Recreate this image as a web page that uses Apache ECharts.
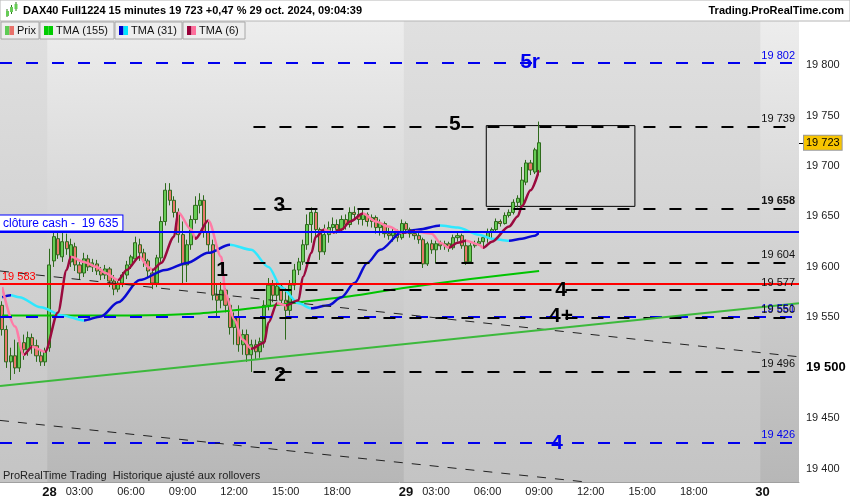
<!DOCTYPE html>
<html lang="fr">
<head>
<meta charset="utf-8" />
<title>DAX40 Full1224 15 minutes</title>
<script src="https://cdn.jsdelivr.net/npm/echarts@6/dist/echarts.min.js"></script>
<style>
  html, body { margin: 0; padding: 0; background: #fff; }
  #chart { width: 850px; height: 500px; }
</style>
</head>
<body>
<div id="chart"></div>
<script>
// bougies 15 min : [ouverture, clôture, plus bas, plus haut]
var candles = [
  [19562,19538,19532,19566],[19538,19506,19500,19542],[19506,19512,19488,19520],[19512,19500,19494,19528],
  [19500,19525,19496,19530],[19525,19518,19508,19533],[19518,19530,19512,19536],[19530,19522,19514,19534],
  [19522,19512,19506,19528],[19512,19506,19502,19518],[19506,19516,19502,19520],
  // 28 oct
  [19520,19602,19516,19618],[19606,19630,19600,19636],[19628,19612,19608,19634],[19610,19625,19605,19635],
  [19625,19618,19612,19633],[19605,19622,19600,19628],[19620,19602,19596,19624],[19602,19594,19588,19606],
  [19594,19608,19590,19614],[19608,19600,19596,19612],[19600,19604,19595,19608],[19603,19596,19592,19607],
  [19596,19592,19587,19600],[19592,19598,19588,19602],[19598,19586,19580,19600],[19586,19578,19572,19592],
  [19578,19584,19575,19588],[19584,19592,19580,19595],[19592,19602,19588,19606],[19602,19610,19598,19612],
  [19608,19624,19606,19630],[19622,19614,19606,19628],[19614,19606,19600,19618],[19606,19596,19590,19608],
  [19594,19584,19578,19598],[19584,19609,19580,19612],[19609,19645,19605,19650],[19645,19676,19641,19683],
  [19676,19666,19661,19683],[19666,19654,19649,19670],[19654,19632,19624,19658],[19632,19602,19584,19645],
  [19602,19622,19585,19627],[19622,19647,19617,19651],[19647,19661,19643,19670],[19661,19666,19653,19673],
  [19666,19635,19629,19671],[19635,19622,19615,19647],[19622,19572,19567,19627],[19572,19567,19550,19584],
  [19567,19577,19559,19585],[19577,19562,19555,19579],[19562,19540,19533,19569],[19540,19550,19523,19555],
  [19550,19523,19516,19562],[19523,19533,19513,19538],[19533,19513,19506,19538],[19513,19523,19496,19528],
  [19523,19516,19508,19528],[19516,19526,19510,19530],[19526,19562,19520,19567],[19562,19582,19557,19589],
  [19582,19572,19565,19587],[19572,19581,19567,19585],[19581,19567,19562,19584],[19567,19557,19528,19579],
  [19557,19582,19552,19587],[19582,19597,19577,19603],[19597,19605,19592,19609],[19605,19622,19602,19627],
  [19622,19642,19617,19652],[19642,19654,19624,19659],[19654,19637,19629,19657],[19637,19615,19607,19639],
  [19615,19632,19612,19642],[19632,19639,19624,19645],[19639,19642,19634,19649],[19642,19637,19633,19647],
  [19637,19647,19635,19651],[19647,19642,19637,19652],[19642,19654,19639,19659],[19654,19652,19647,19660],
  [19652,19647,19642,19657],[19647,19652,19641,19657],[19652,19645,19640,19654],[19645,19649,19639,19652],
  [19649,19639,19633,19651],[19639,19643,19631,19647],[19643,19633,19629,19645],[19633,19631,19627,19639],
  [19631,19635,19625,19638],[19635,19629,19625,19637],[19629,19643,19627,19647],
  // 29 oct
  [19643,19637,19633,19645],[19637,19633,19629,19639],[19633,19631,19627,19636],[19631,19627,19623,19634],
  [19627,19603,19599,19629],[19603,19623,19601,19625],[19623,19617,19613,19627],[19617,19623,19604,19626],
  [19623,19621,19617,19626],[19621,19623,19617,19626],[19623,19619,19615,19625],[19619,19629,19617,19632],
  [19629,19631,19625,19635],[19631,19621,19618,19633],[19621,19605,19602,19627],[19605,19621,19603,19624],
  [19621,19623,19619,19626],[19623,19625,19621,19629],[19625,19629,19620,19631],[19629,19635,19624,19638],
  [19635,19637,19627,19639],[19637,19645,19634,19648],[19645,19643,19640,19647],[19643,19651,19642,19654],
  [19651,19654,19649,19657],[19654,19664,19652,19667],[19664,19668,19659,19671],[19661,19686,19657,19699],
  [19684,19703,19681,19706],[19703,19696,19691,19706],[19694,19716,19692,19718],[19694,19723,19691,19744]
];

// moyennes mobiles triangulaires : [n° de bougie, valeur]
var tma6 = [
  [0,19580],[3,19541],[5,19513],[7,19521],[10,19516],[13,19555],[15,19597],[16,19610],[19,19605],[22,19600],
  [24,19594],[27,19587],[29,19597],[32,19610],[34,19600],[35,19597],[37,19604],[40,19630],[41,19654],[44,19637],
  [45,19628],[48,19646],[51,19610],[52,19574],[54,19548],[56,19528],[58,19519],[61,19525],[62,19545],[64,19564],
  [66,19562],[69,19567],[70,19590],[72,19614],[73,19630],[75,19637],[77,19634],[79,19637],[81,19645],[84,19653],
  [87,19645],[90,19640],[93,19634],[96,19635],[100,19633],[102,19624],[104,19619],[106,19624],[108,19626],
  [111,19622],[112,19619],[114,19625],[118,19640],[120,19650],[121,19660],[123,19676],[125,19696]
];
var tma31 = [
  [0,19570],[2,19572],[4,19570],[9,19560],[14,19552],[19,19547],[23,19551],[27,19565],[32,19587],[38,19597],
  [43,19604],[48,19614],[53,19622],[58,19617],[62,19600],[65,19580],[69,19564],[72,19559],[76,19562],[79,19570],
  [82,19584],[85,19604],[88,19617],[93,19634],[97,19637],[102,19641],[106,19639],[111,19632],[114,19628],
  [118,19626],[121,19628],[124,19631],[125,19634]
];
var tma155 = [
  [0,19552],[15,19552],[30,19552],[46,19554],[58,19559],[69,19565],[81,19571],[93,19579],[109,19588],[125,19596]
];

// niveaux tracés
var blueLevels = [19802, 19551, 19426];
var blackLevels = [19739, 19658, 19604, 19577, 19550, 19496];
var boldLevels = [19658];
var levelStart = 59;          // bougie où commencent les niveaux noirs
var cashClose = 19635;
var redLevel = 19583;
var lastPrice = 19723;
var tags = [
  ['5r', 123.4, 19803, 'blue'], ['5', 105.9, 19741, 'black'], ['3', 65, 19661, 'black'],
  ['1', 51.7, 19597, 'black'], ['2', 65.2, 19493, 'black'], ['4', 130.6, 19577, 'black'],
  ['4+', 130.6, 19551, 'black'], ['4', 129.7, 19425, 'blue']
];
var dashedTrends = [[[0, 19596], [186, 19511]], [[0, 19448], [136.4, 19387]]];
var greenTrend = [[0, 19482], [186, 19564]];
var box = [[113.2, 19740], [147.8, 19660]];
var dayBands = [[0, 11], [94, 177]];

var FONT = 'Liberation Sans, Arial, sans-serif';

function pad(n) { return (n < 10 ? '0' : '') + n; }
function session(day, from, to) {
  var out = [];
  for (var m = from; m <= to; m += 15) out.push(day + ' ' + pad(Math.floor(m / 60)) + ':' + pad(m % 60));
  return out;
}
var categories = [].concat(
  session('25', 19 * 60 + 15, 21 * 60 + 45),
  session('28', 75, 21 * 60 + 45),
  session('29', 75, 21 * 60 + 45),
  session('30', 75, 3 * 60 + 15)
);

function fmt(v) {
  var s = String(Math.round(v));
  return s.slice(0, s.length - 3) + ' ' + s.slice(-3);
}
function centred(pts) {
  return pts.map(function (p) { return [p[0] + 0.5, p[1]]; });
}
// couleur selon la pente : montante / descendante
function slopePieces(pts, up, down) {
  var pieces = [];
  for (var k = 0; k < pts.length - 1; k++) {
    var c = pts[k + 1][1] >= pts[k][1] ? up : down;
    var last = pieces[pieces.length - 1];
    if (last && last.color === c) last.lt = pts[k + 1][0];
    else pieces.push({ gte: pts[k][0], lt: pts[k + 1][0], color: c });
  }
  var end = pieces[pieces.length - 1];
  end.lte = end.lt; delete end.lt;
  return pieces;
}

var tma6Pts = centred(tma6), tma31Pts = centred(tma31), tma155Pts = centred(tma155);

var lines = [];
blueLevels.forEach(function (v) {
  lines.push({
    yAxis: v,
    lineStyle: { color: '#0000ee', width: 2, type: [12, 14] },
    label: { show: true, position: 'insideEndTop', formatter: fmt(v), color: '#0000ee', fontSize: 11, fontFamily: FONT, distance: [4, 2] }
  });
});
blackLevels.forEach(function (v) {
  lines.push([{
    coord: [levelStart, v],
    lineStyle: { color: '#000', width: 2, type: [12, 14] },
    label: { show: true, position: 'insideEndTop', formatter: fmt(v), color: '#111', fontSize: 11, fontFamily: FONT,
      fontWeight: boldLevels.indexOf(v) >= 0 ? 'bold' : 'normal', distance: [4, 2] }
  }, { coord: [186, v] }]);
});
lines.push({
  yAxis: cashClose,
  lineStyle: { color: '#0000ff', width: 2, type: 'solid' },
  label: { show: true, position: 'insideStartTop', formatter: 'clôture cash -  ' + fmt(cashClose), color: '#0000ff',
    fontSize: 12, fontFamily: FONT, backgroundColor: '#fff', borderColor: '#0000ff', borderWidth: 1,
    padding: [2, 4, 1, 3], distance: [0, 1] }
});
lines.push({
  yAxis: redLevel,
  lineStyle: { color: '#ff0000', width: 2, type: 'solid' },
  label: { show: true, position: 'insideStartTop', formatter: fmt(redLevel), color: '#ff0000', fontSize: 11, fontFamily: FONT, distance: [2, 2] }
});
dashedTrends.forEach(function (t) {
  lines.push([{ coord: t[0], lineStyle: { color: '#222', width: 1, type: [9, 9] }, label: { show: false } }, { coord: t[1] }]);
});
lines.push([{ coord: greenTrend[0], lineStyle: { color: '#3cb93c', width: 2, type: 'solid' }, label: { show: false } }, { coord: greenTrend[1] }]);
lines.push({
  yAxis: lastPrice,
  lineStyle: { color: 'rgba(0,0,0,0)', width: 1 },
  label: { show: true, position: 'end', formatter: fmt(lastPrice), color: '#000', fontSize: 11, fontFamily: FONT,
    backgroundColor: '#f7c400', borderColor: '#9a9a9a', borderWidth: 1, padding: [2, 2, 1, 2], distance: 5 }
});

var areas = dayBands.map(function (b) {
  return [{
    xAxis: b[0],
    itemStyle: { color: new echarts.graphic.LinearGradient(0, 0, 0, 1, [{ offset: 0, color: '#e0e0e0' }, { offset: 1, color: '#c4c4c4' }]) }
  }, { xAxis: b[1] }];
});
areas.push([{ coord: box[0], itemStyle: { color: 'rgba(0,0,0,0)', borderColor: '#000', borderWidth: 1 } }, { coord: box[1] }]);

var points = tags.map(function (t) {
  return {
    coord: [t[1], t[2]],
    label: { formatter: t[0], color: t[3] === 'blue' ? '#0000ee' : '#000' }
  };
});

function tab(x, w, label, c1, c2) {
  return [
    { type: 'rect', z: 100, shape: { x: x, y: 22, width: w, height: 17 }, style: { fill: '#eeeeee', stroke: '#a8a8a8', lineWidth: 1 } },
    { type: 'text', z: 101, style: { x: x + 16, y: 31, text: label, font: '11px ' + FONT, fill: '#111', verticalAlign: 'middle' } },
    { type: 'rect', z: 102, shape: { x: x + 4, y: 26, width: 4.5, height: 9 }, style: { fill: c1 } },
    { type: 'rect', z: 102, shape: { x: x + 8.5, y: 26, width: 4.5, height: 9 }, style: { fill: c2 } }
  ];
}

var graphics = [
  { type: 'rect', z: 100, shape: { x: 0, y: 0, width: 850, height: 21 }, style: { fill: '#fff', stroke: '#b5b5b5', lineWidth: 1 } },
  { type: 'line', z: 101, shape: { x1: 7, y1: 9, x2: 7, y2: 17 }, style: { stroke: '#2e7d1e', lineWidth: 1 } },
  { type: 'rect', z: 101, shape: { x: 6, y: 11, width: 3, height: 5 }, style: { fill: '#66cc55' } },
  { type: 'line', z: 101, shape: { x1: 11.5, y1: 5, x2: 11.5, y2: 14 }, style: { stroke: '#2e7d1e', lineWidth: 1 } },
  { type: 'rect', z: 101, shape: { x: 10, y: 7, width: 3, height: 5 }, style: { fill: '#66cc55' } },
  { type: 'line', z: 101, shape: { x1: 16, y1: 2, x2: 16, y2: 11 }, style: { stroke: '#2e7d1e', lineWidth: 1 } },
  { type: 'rect', z: 101, shape: { x: 14.5, y: 4, width: 3, height: 5 }, style: { fill: '#66cc55' } },
  { type: 'text', z: 101, style: { x: 23, y: 11, text: 'DAX40 Full1224 15 minutes 19 723 +0,47 % 29 oct. 2024, 09:04:39',
    font: 'bold 11px ' + FONT, fill: '#000', verticalAlign: 'middle' } },
  { type: 'text', z: 101, style: { x: 844, y: 11, text: 'Trading.ProRealTime.com', font: 'bold 11px ' + FONT,
    fill: '#000', align: 'right', verticalAlign: 'middle' } },
  { type: 'text', z: 101, style: { x: 3, y: 476, text: 'ProRealTime Trading  Historique ajusté aux rollovers',
    font: '11px ' + FONT, fill: '#222', verticalAlign: 'middle' } },
  // petit trait devant l'étiquette du dernier cours
  { type: 'line', z: 101, shape: { x1: 799, y1: 143.5, x2: 803, y2: 143.5 }, style: { stroke: '#000', lineWidth: 1 } }
].concat(
  tab(1, 38, 'Prix', '#5ccc55', '#e8716a'),
  tab(40, 74, 'TMA (155)', '#00cc00', '#00cc00'),
  tab(115, 67, 'TMA (31)', '#0000cc', '#00e5ff'),
  tab(183, 62, 'TMA (6)', '#99003a', '#ff6f9c')
);

var chart = echarts.init(document.getElementById('chart'));
chart.setOption({
  animation: false,
  backgroundColor: '#fff',
  textStyle: { fontFamily: FONT },
  grid: {
    left: 0, right: 51, top: 21, bottom: 18, show: true, borderWidth: 0,
    backgroundColor: new echarts.graphic.LinearGradient(0, 0, 0, 1, [{ offset: 0, color: '#ededed' }, { offset: 1, color: '#b7b7b7' }])
  },
  xAxis: [{
    type: 'category',
    data: categories,
    axisLine: { show: true, lineStyle: { color: '#a0a0a0' } },
    axisTick: { show: false },
    splitLine: { show: false },
    axisLabel: {
      margin: 4,
      color: '#222',
      fontSize: 11,
      fontFamily: FONT,
      interval: function (index, value) {
        var day = value.slice(0, 2), t = value.slice(3);
        if (day === '25') return false;
        if (t === '01:15') return true;
        if (day === '30') return false;
        return /^(03|06|09|12|15|18):00$/.test(t);
      },
      formatter: function (value) {
        var t = value.slice(3);
        if (t === '01:15') return '{d|' + value.slice(0, 2) + '}';
        return t;
      },
      rich: { d: { fontWeight: 'bold', fontSize: 13, color: '#111', fontFamily: FONT } }
    }
  }, {
    type: 'value', min: 0, max: 186, show: false
  }],
  yAxis: {
    type: 'value',
    position: 'right',
    min: 19387,
    max: 19843.6,
    splitNumber: 9,
    splitLine: { show: false },
    axisLine: { show: true, lineStyle: { color: '#a0a0a0' } },
    axisTick: { show: true, length: 4, lineStyle: { color: '#888' } },
    axisLabel: {
      margin: 7,
      color: '#222',
      fontSize: 11,
      fontFamily: FONT,
      showMinLabel: false,
      showMaxLabel: false,
      formatter: function (v) {
        if (v % 50 !== 0) return '';
        return v === 19500 ? '{b|' + fmt(v) + '}' : fmt(v);
      },
      rich: { b: { fontWeight: 'bold', fontSize: 13, color: '#000', fontFamily: FONT } }
    }
  },
  visualMap: [{
    show: false, type: 'piecewise', seriesIndex: 2, dimension: 0,
    pieces: slopePieces(tma31Pts, '#0a0ad2', '#2ee8ff')
  }, {
    show: false, type: 'piecewise', seriesIndex: 3, dimension: 0,
    pieces: slopePieces(tma6Pts, '#9a0a3e', '#ff7ba6')
  }],
  series: [{
    name: 'Prix',
    type: 'candlestick',
    xAxisIndex: 0,
    data: candles,
    barWidth: 3.6,
    itemStyle: {
      color: '#66cc55', color0: '#e8786b',
      borderColor: '#2e6a1c', borderColor0: '#2e6a1c', borderWidth: 1
    }
  }, {
    name: 'TMA (155)',
    type: 'line',
    xAxisIndex: 1,
    data: tma155Pts,
    symbol: 'none',
    smooth: 0.3,
    lineStyle: { color: '#00c400', width: 2 },
    markArea: { silent: true, data: areas },
    markLine: { silent: true, symbol: ['none', 'none'], animation: false, data: lines },
    markPoint: {
      silent: true, symbol: 'rect', symbolSize: [1, 1], itemStyle: { color: 'rgba(0,0,0,0)' },
      label: { show: true, position: 'inside', fontSize: 21, fontWeight: 'bold', fontFamily: FONT },
      data: points
    }
  }, {
    name: 'TMA (31)',
    type: 'line',
    xAxisIndex: 1,
    data: tma31Pts,
    symbol: 'none',
    smooth: 0.3,
    smoothMonotone: 'x',
    lineStyle: { width: 2.5 }
  }, {
    name: 'TMA (6)',
    type: 'line',
    xAxisIndex: 1,
    data: tma6Pts,
    symbol: 'none',
    smooth: 0.3,
    smoothMonotone: 'x',
    lineStyle: { width: 2.5 }
  }],
  graphic: graphics
});
</script>
</body>
</html>
